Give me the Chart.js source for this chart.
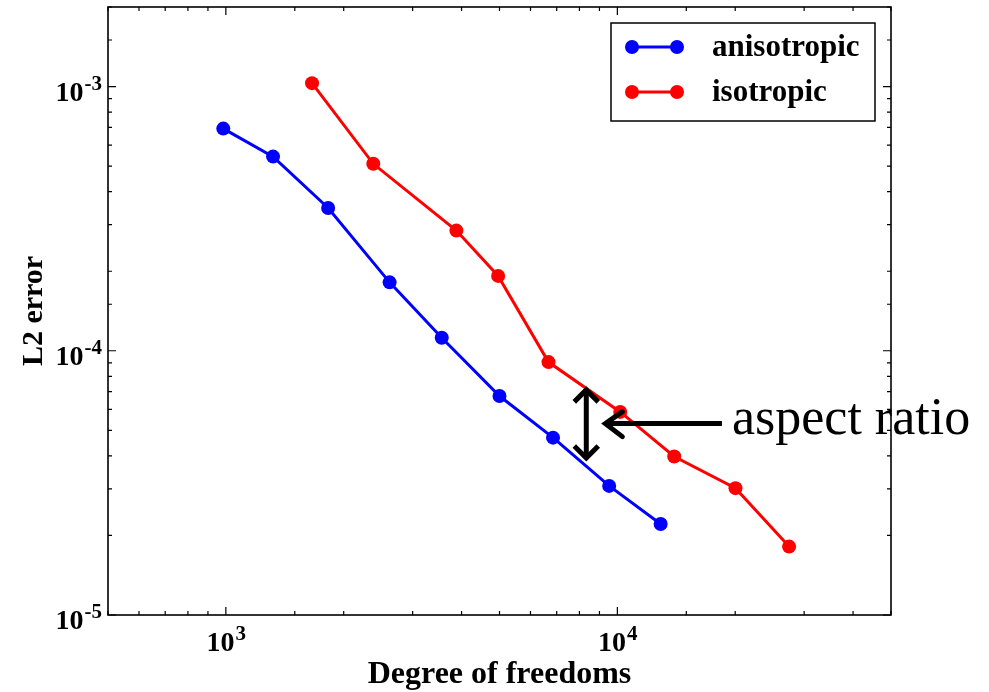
<!DOCTYPE html>
<html>
<head>
<meta charset="utf-8">
<script src="https://cdn.jsdelivr.net/npm/chart.js@4.4.1/dist/chart.umd.min.js"></script>
<style>
  html, body { margin: 0; padding: 0; background: #fff; }
  #wrap { width: 989px; height: 692px; position: relative; }
</style>
</head>
<body>
<div id="wrap"><canvas id="errorChart"></canvas></div>
<script>
// Convergence data (degrees of freedom vs L2 error)
const anisoDofs = [985, 1320, 1825, 2620, 3560, 5000, 6850, 9530, 12900];
const anisoErr = [6.93e-4, 5.43e-4, 3.47e-4, 1.815e-4, 1.12e-4, 6.74e-5, 4.69e-5, 3.08e-5, 2.21e-5];
const isoDofs = [1660, 2380, 3880, 4960, 6670, 10170, 13970, 20030, 27460];
const isoErr = [1.03e-3, 5.1e-4, 2.85e-4, 1.92e-4, 9.06e-5, 5.87e-5, 3.98e-5, 3.02e-5, 1.815e-5];
const seriesLabels = ['anisotropic', 'isotropic'];

// axis limits
const xRange = [500, 50000];
const yRange = [1e-5, 2e-3];

// "aspect ratio" annotation, in data units
const gapX = 8330;
const gapTop = 7.3e-5;
const gapBottom = 3.83e-5;
const pointerY = 5.3e-5;
const pointerTail = 18500;
const pointerTip = 9210;
const noteText = 'aspect ratio';

const SERIF = '"Liberation Serif", "DejaVu Serif", serif';

function toPoints(xs, ys) {
    return xs.map((x, i) => ({ x: x, y: ys[i] }));
}

// "10" with a raised exponent, like matplotlib mathtext
function drawPower(ctx, exp, x, y, align) {
    ctx.save();
    ctx.fillStyle = '#000';
    ctx.textBaseline = 'alphabetic';
    ctx.textAlign = 'left';
    const baseFont = 'bold 28px ' + SERIF;
    const expFont = 'bold 21px ' + SERIF;
    ctx.font = baseFont;
    const wBase = ctx.measureText('10').width;
    ctx.font = expFont;
    const wExp = ctx.measureText(exp).width;
    const total = wBase + wExp;
    let left = x;
    if (align === 'center') left = x - total / 2;
    if (align === 'right') left = x - total;
    ctx.font = baseFont;
    ctx.fillText('10', left, y);
    ctx.font = expFont;
    ctx.fillText(exp, left + wBase + 1, y - 11);
    ctx.restore();
}

const isDecade = v => Math.abs(Math.log10(v) - Math.round(Math.log10(v))) < 1e-9;

const framePlugin = {
    id: 'framePlugin',
    afterDatasetsDraw(chart) {
        const ctx = chart.ctx;
        const area = chart.chartArea;
        const xs = chart.scales.x;
        const ys = chart.scales.y;

        // annotation: double arrow + pointer + text
        ctx.save();
        ctx.strokeStyle = '#000';
        ctx.fillStyle = '#000';
        ctx.lineWidth = 5;
        ctx.lineCap = 'butt';
        ctx.lineJoin = 'miter';
        const ax = xs.getPixelForValue(gapX);
        const at = ys.getPixelForValue(gapTop);
        const ab = ys.getPixelForValue(gapBottom);
        ctx.beginPath();
        ctx.moveTo(ax, at + 3);
        ctx.lineTo(ax, ab - 3);
        ctx.stroke();
        ctx.beginPath();
        ctx.moveTo(ax - 12, at + 15);
        ctx.lineTo(ax, at + 3);
        ctx.lineTo(ax + 12, at + 15);
        ctx.moveTo(ax - 12, ab - 15);
        ctx.lineTo(ax, ab - 3);
        ctx.lineTo(ax + 12, ab - 15);
        ctx.stroke();

        const py = ys.getPixelForValue(pointerY);
        const pTail = xs.getPixelForValue(pointerTail);
        const pTip = xs.getPixelForValue(pointerTip);
        ctx.beginPath();
        ctx.moveTo(pTail, py);
        ctx.lineTo(pTip + 2, py);
        ctx.stroke();
        ctx.lineCap = 'round';
        ctx.beginPath();
        ctx.moveTo(pTip + 19, py - 12);
        ctx.lineTo(pTip + 2, py);
        ctx.lineTo(pTip + 19, py + 13);
        ctx.stroke();

        ctx.font = '52px ' + SERIF;
        ctx.textAlign = 'left';
        ctx.textBaseline = 'alphabetic';
        ctx.fillText(noteText, pTail + 10, py + 10);
        ctx.restore();

        // frame
        ctx.save();
        ctx.strokeStyle = '#000';
        ctx.lineWidth = 1.6;
        ctx.strokeRect(area.left, area.top, area.right - area.left, area.bottom - area.top);

        // inward ticks on all four sides
        ctx.lineWidth = 1.2;
        ctx.beginPath();
        xs.ticks.forEach(t => {
            const px = xs.getPixelForValue(t.value);
            const len = isDecade(t.value) ? 8 : 4;
            ctx.moveTo(px, area.bottom);
            ctx.lineTo(px, area.bottom - len);
            ctx.moveTo(px, area.top);
            ctx.lineTo(px, area.top + len);
        });
        ys.ticks.forEach(t => {
            const py2 = ys.getPixelForValue(t.value);
            const len = isDecade(t.value) ? 8 : 4;
            ctx.moveTo(area.left, py2);
            ctx.lineTo(area.left + len, py2);
            ctx.moveTo(area.right, py2);
            ctx.lineTo(area.right - len, py2);
        });
        ctx.stroke();
        ctx.restore();

        // tick labels at decades
        xs.ticks.forEach(t => {
            if (!isDecade(t.value)) return;
            const e = Math.round(Math.log10(t.value));
            drawPower(ctx, String(e), xs.getPixelForValue(t.value), area.bottom + 36, 'center');
        });
        ys.ticks.forEach(t => {
            if (!isDecade(t.value)) return;
            const e = Math.round(Math.log10(t.value));
            drawPower(ctx, String(e), area.left - 7, ys.getPixelForValue(t.value) + 14, 'right');
        });

        // axis titles
        ctx.save();
        ctx.fillStyle = '#000';
        ctx.textAlign = 'center';
        ctx.textBaseline = 'alphabetic';
        ctx.font = 'bold 32px ' + SERIF;
        ctx.fillText('Degree of freedoms', (area.left + area.right) / 2, 683);
        ctx.font = 'bold 30px ' + SERIF;
        ctx.translate(42, (area.top + area.bottom) / 2);
        ctx.rotate(-Math.PI / 2);
        ctx.fillText('L2 error', 0, 0);
        ctx.restore();

        // legend box, upper right
        ctx.save();
        const boxR = area.right - 16;
        const boxL = boxR - 264;
        const boxT = area.top + 16;
        const boxB = boxT + 98;
        ctx.fillStyle = '#fff';
        ctx.fillRect(boxL, boxT, boxR - boxL, boxB - boxT);
        ctx.strokeStyle = '#000';
        ctx.lineWidth = 1.5;
        ctx.strokeRect(boxL, boxT, boxR - boxL, boxB - boxT);
        chart.data.datasets.forEach((ds, i) => {
            const ly = boxT + 24 + i * 45;
            const x0 = boxL + 21;
            const x1 = boxL + 66;
            ctx.strokeStyle = ds.borderColor;
            ctx.fillStyle = ds.backgroundColor;
            ctx.lineWidth = 3;
            ctx.beginPath();
            ctx.moveTo(x0, ly);
            ctx.lineTo(x1, ly);
            ctx.stroke();
            [x0, x1].forEach(mx => {
                ctx.beginPath();
                ctx.arc(mx, ly, 7, 0, Math.PI * 2);
                ctx.fill();
            });
            ctx.fillStyle = '#000';
            ctx.font = 'bold 31px ' + SERIF;
            ctx.textAlign = 'left';
            ctx.textBaseline = 'middle';
            ctx.fillText(ds.label, boxL + 101, ly + 1);
        });
        ctx.restore();
    }
};

document.addEventListener('DOMContentLoaded', () => {
    const ctx = document.getElementById('errorChart').getContext('2d');
    new Chart(ctx, {
        type: 'line',
        data: {
            datasets: [
                {
                    label: seriesLabels[0],
                    data: toPoints(anisoDofs, anisoErr),
                    borderColor: '#0000ff',
                    backgroundColor: '#0000ff',
                    borderWidth: 3,
                    pointRadius: 7,
                    pointBorderWidth: 0,
                    tension: 0
                },
                {
                    label: seriesLabels[1],
                    data: toPoints(isoDofs, isoErr),
                    borderColor: '#ff0000',
                    backgroundColor: '#ff0000',
                    borderWidth: 3,
                    pointRadius: 7,
                    pointBorderWidth: 0,
                    tension: 0
                }
            ]
        },
        options: {
            responsive: true,
            maintainAspectRatio: false,
            animation: false,
            layout: {
                padding: { left: 108, right: 98, top: 7, bottom: 77 }
            },
            plugins: {
                legend: { display: false },
                tooltip: { enabled: false }
            },
            scales: {
                x: {
                    type: 'logarithmic',
                    min: xRange[0],
                    max: xRange[1],
                    ticks: { display: false },
                    grid: { display: false, drawTicks: false },
                    border: { display: false }
                },
                y: {
                    type: 'logarithmic',
                    min: yRange[0],
                    max: yRange[1],
                    ticks: { display: false },
                    grid: { display: false, drawTicks: false },
                    border: { display: false }
                }
            }
        },
        plugins: [framePlugin]
    });
});
</script>
</body>
</html>
